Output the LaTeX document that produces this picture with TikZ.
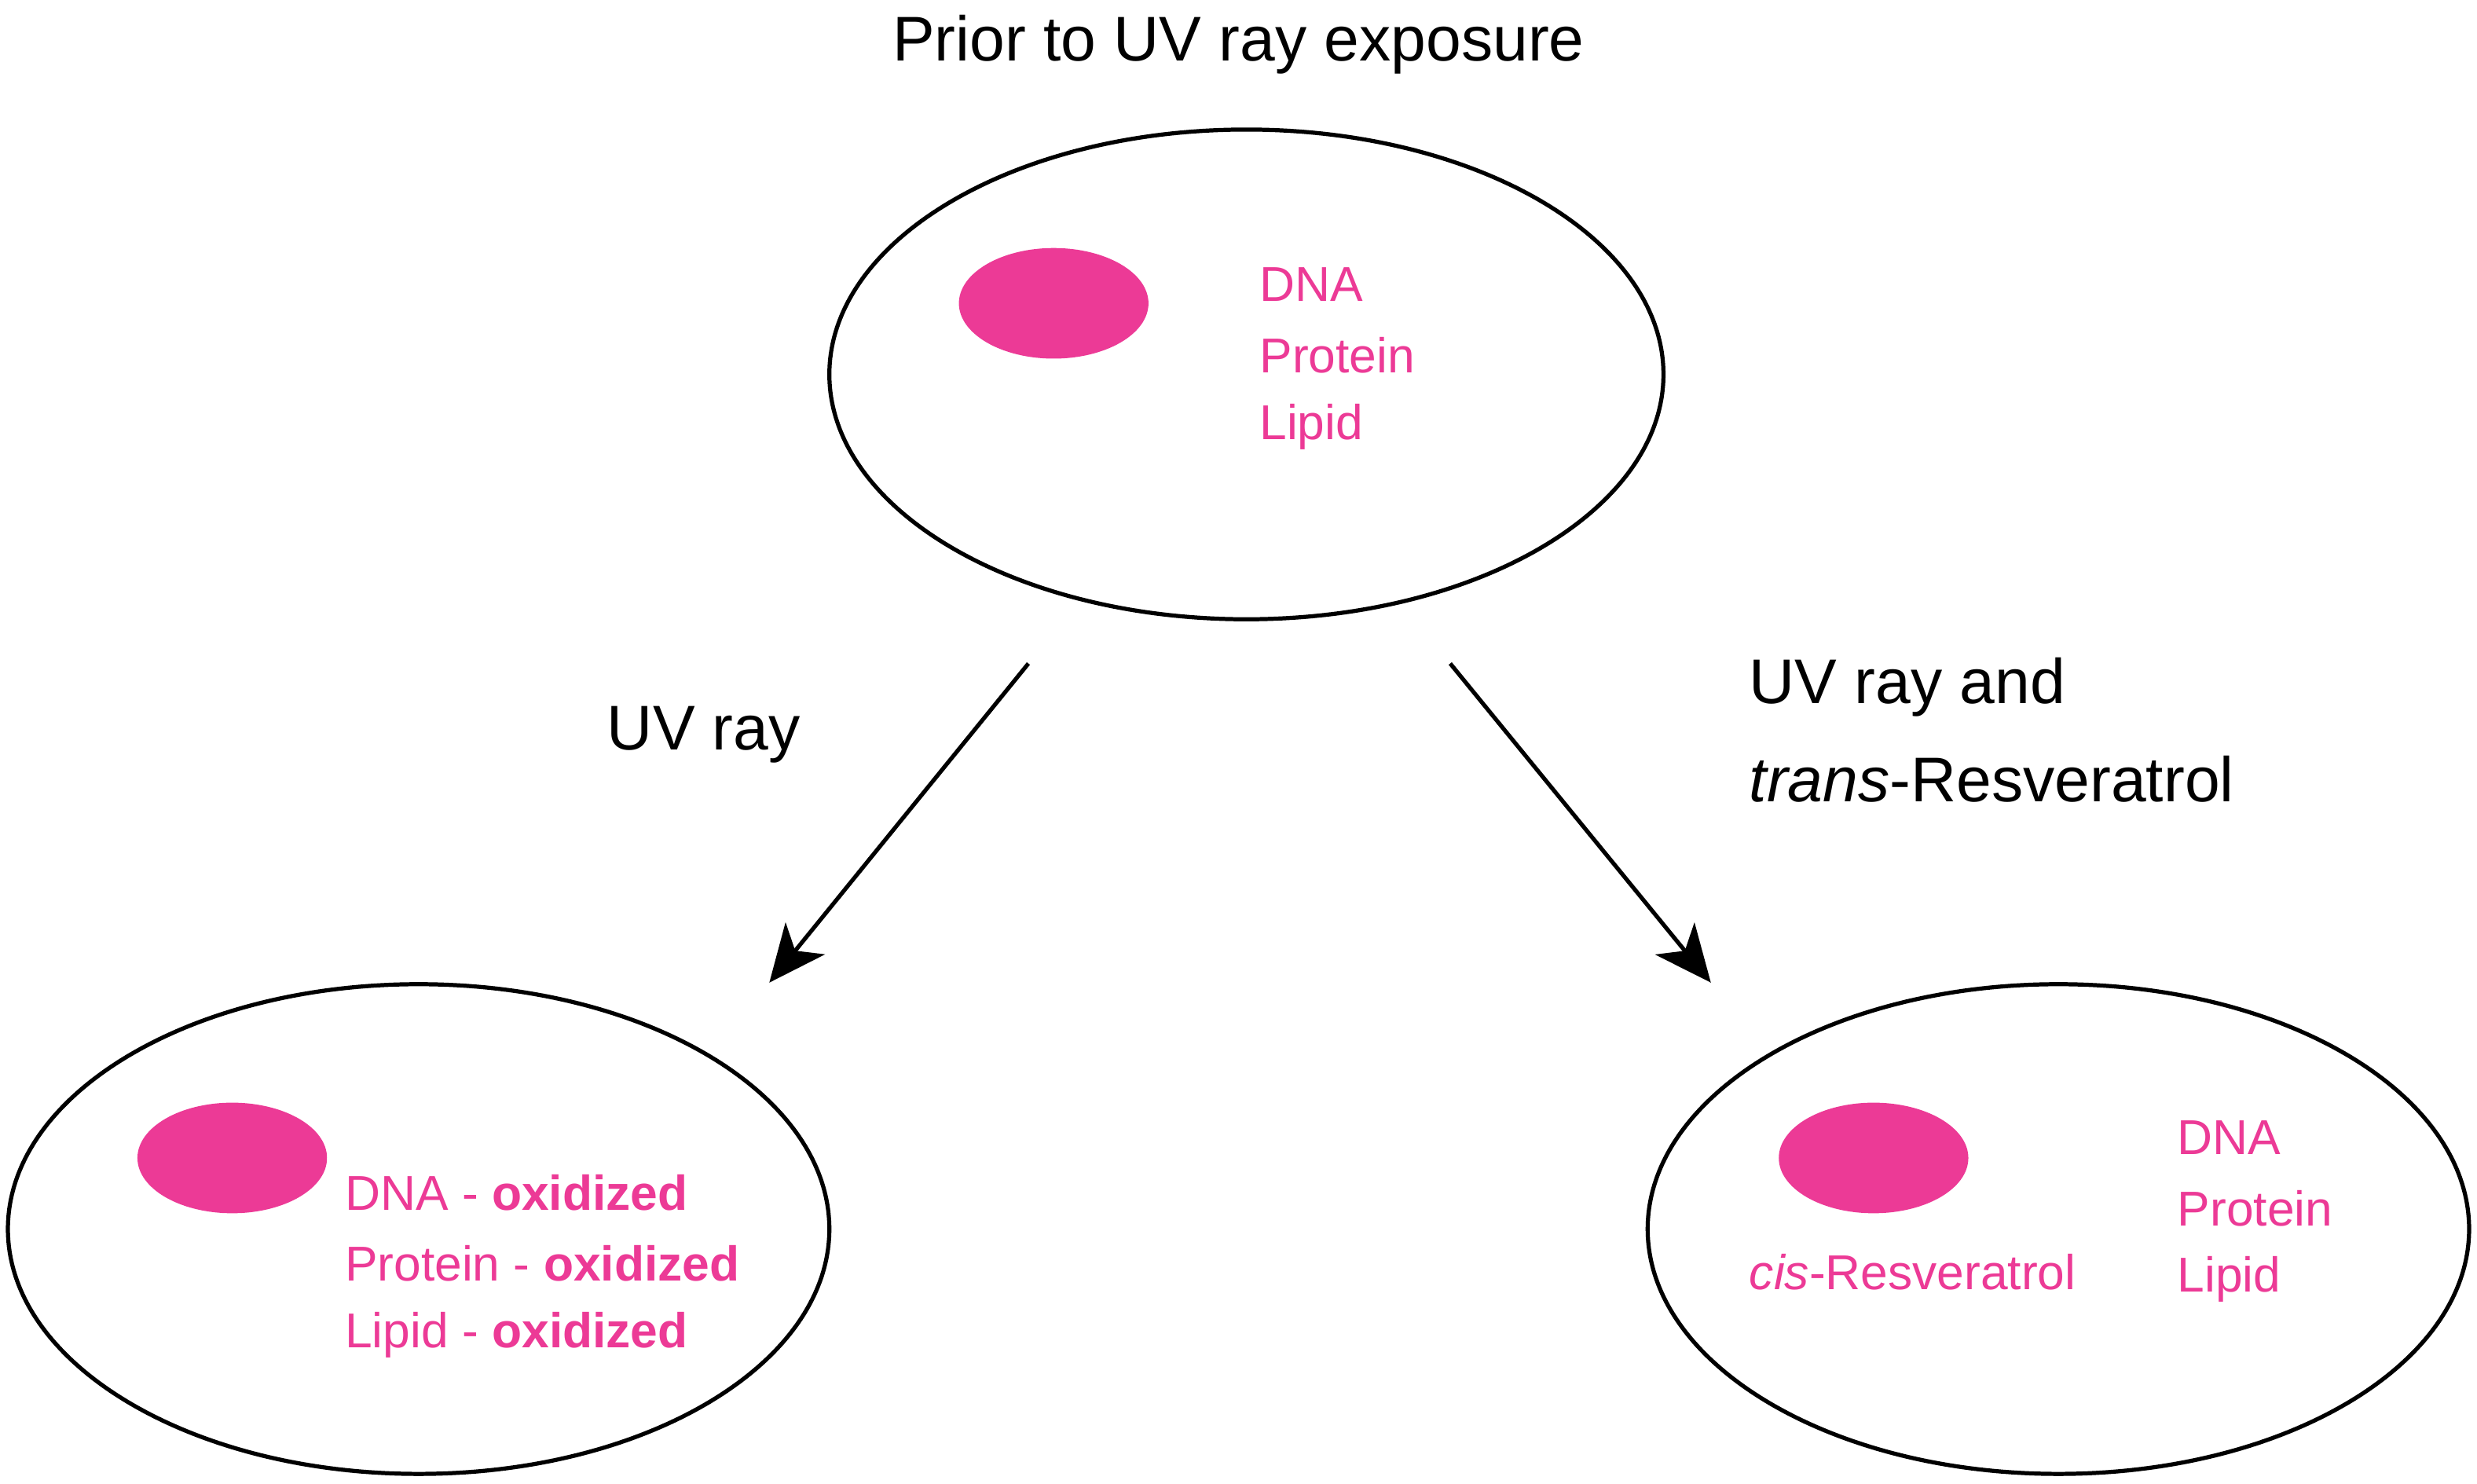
\documentclass[tikz,border=0pt]{standalone}
\usepackage{fontspec}
\setmainfont{Liberation Sans}
\usetikzlibrary{arrows.meta}
\definecolor{pk}{HTML}{EC3A96}
\begin{document}
\begin{tikzpicture}[x=0.5pt,y=-0.5pt,
 cell/.style={draw=black,line width=1.3pt},
 nuc/.style={fill=pk},
 pt/.style={text=pk,font=\fontsize{15.5}{18}\selectfont,anchor=west,inner sep=0},
 bt/.style={font=\fontsize{20}{24}\selectfont,anchor=west,inner sep=0},
 arr/.style={line width=1.3pt,-{Stealth[length=18pt,width=16pt,inset=5pt]}}]
\useasboundingbox (0,0) rectangle (1568,939);
\draw[cell] (789,237) ellipse [x radius=264,y radius=155];
\draw[cell] (265,778) ellipse [x radius=260,y radius=155];
\draw[cell] (1303,778) ellipse [x radius=260,y radius=155];
\fill[nuc] (667,192) ellipse [x radius=60,y radius=35];
\fill[nuc] (147,733) ellipse [x radius=60,y radius=35];
\fill[nuc] (1186,733) ellipse [x radius=60,y radius=35];
\node[bt,anchor=center] (title) at (784,28) {Prior to UV ray exposure};
\node[pt] (t1) at (797,180) {DNA};
\node[pt] (t2) at (797,225) {Protein};
\node[pt] (t3) at (797,270) {Lipid};
\node[pt] (l1) at (218,755) {DNA - \textbf{oxidized}};
\node[pt] (l2) at (218,800) {Protein - \textbf{oxidized}};
\node[pt] (l3) at (218,845) {Lipid - \textbf{oxidized}};
\node[pt] (cis) at (1107,805) {\textit{cis}-Resveratrol};
\node[pt] (r1) at (1378,720) {DNA};
\node[pt] (r2) at (1378,765) {Protein};
\node[pt] (r3) at (1378,810) {Lipid};
\node[bt] (uv) at (384,465) {UV ray};
\node[bt] (uv2) at (1107,435) {UV ray and};
\node[bt] (tr) at (1107,493) {\textit{trans}-Resveratrol};
\coordinate (a1s) at (651,420); \coordinate (a1e) at (487,622);
\coordinate (a2s) at (918,420); \coordinate (a2e) at (1083,622);
\draw[arr] (a1s) -- (a1e);
\draw[arr] (a2s) -- (a2e);
\end{tikzpicture}
\end{document}
